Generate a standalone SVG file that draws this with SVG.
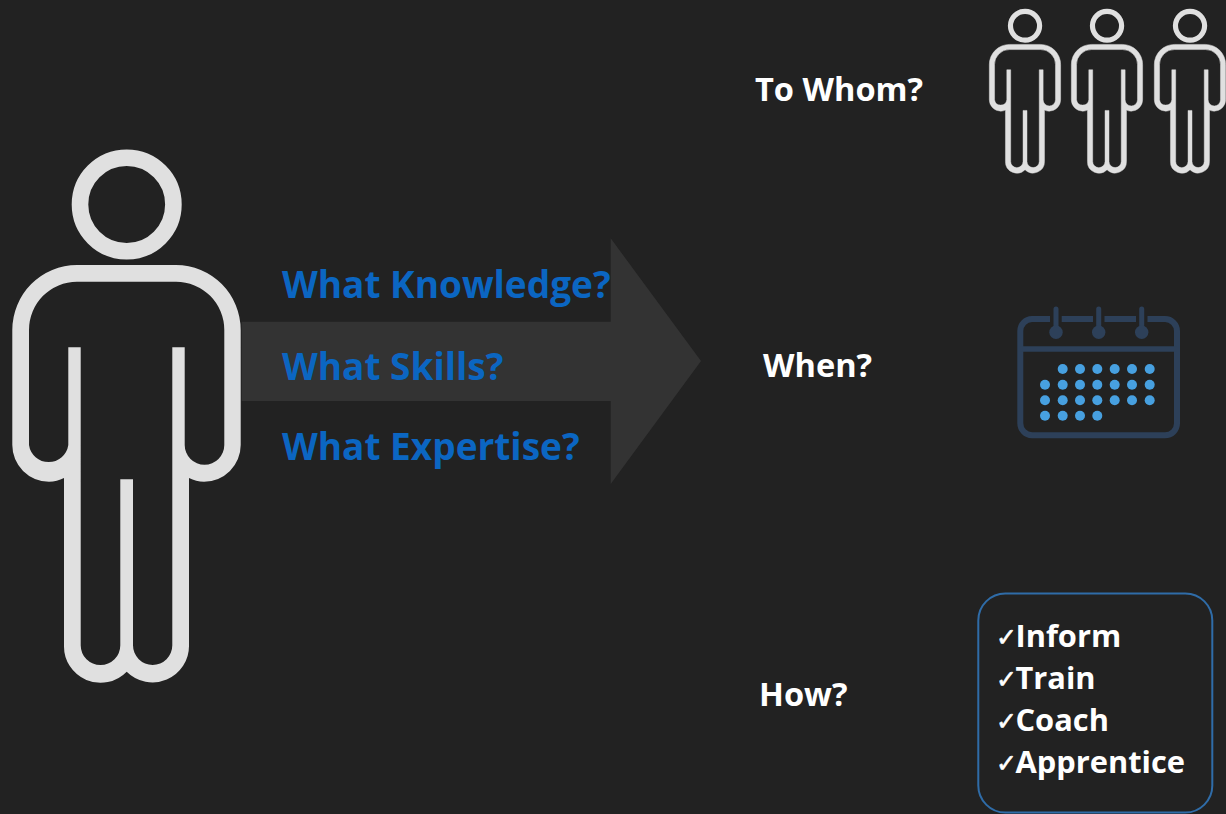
<svg xmlns="http://www.w3.org/2000/svg" xmlns:xlink="http://www.w3.org/1999/xlink" width="1226" height="814" viewBox="0 0 1226 814">
<style>
.t{font-family:"Open Sans","Noto Sans",sans-serif;font-weight:700}
.q{font-size:37px;fill:#0b66c2}
.w{font-size:32.6px;fill:#ffffff}
.l{font-size:30.8px;fill:#ffffff}
.c{font-family:"DejaVu Sans",sans-serif;font-weight:700;font-size:25px;fill:#ffffff;stroke:#ffffff;stroke-width:.6px}
.cal{fill:none;stroke:#2d4059;stroke-width:6}
.dot{fill:#47a0e0}
.ring{fill:#2d4059}
</style>
<defs>
<g id="person-shape">
<circle cx="126.7" cy="204.5" r="46.7" fill="none" stroke="#e0e0e0" stroke-width="16.6"/>
<path fill="#e0e0e0" fill-rule="evenodd" d="M77 265H176A64.7 65 0 0 1 240.7 330V445A36.7 36.7 0 0 1 204 481.7Q196 481.7 189 478V645.3A36.5 36.5 0 0 1 126.7 671.7A36.5 36.5 0 0 1 64 645.3V478Q57 481.7 49 481.7A36.7 36.7 0 0 1 12.3 445V330A64.7 65 0 0 1 77 265ZM77 281.7A48 48.3 0 0 0 29 330V445A19.85 19.85 0 0 0 68.3 445V347.3H80.7V645.3A19.8 19.8 0 0 0 120.3 645.3V479.3H133V645.3A19.65 19.65 0 0 0 172.3 645.3V347.3H184.7V445A19.8 19.8 0 0 0 224.3 445V330A48.3 48.3 0 0 0 176 281.7Z"/>
</g>
</defs>
<rect width="1226" height="814" fill="#222222"/>
<g id="connectors">
<polygon id="main-arrow" points="241.7,321.7 610.7,321.7 610.7,238.3 701,361 610.7,484 610.7,401 241.7,401" fill="#333333"/>
</g>
<g id="person-large"><use href="#person-shape"/></g>
<g id="questions">
<text class="t q" x="282" y="298">What Knowledge?</text>
<text class="t q" x="282" y="379.5">What Skills?</text>
<text class="t q" x="282" y="460">What Expertise?</text>
</g>
<g id="to-whom">
<text class="t w" x="755" y="101">To Whom?</text>
<use href="#person-shape" stroke="#e0e0e0" stroke-width="1.5" transform="translate(985.5 -37.2) scale(0.312 0.308)"/>
<use href="#person-shape" stroke="#e0e0e0" stroke-width="1.5" transform="translate(1067.5 -37.2) scale(0.312 0.308)"/>
<use href="#person-shape" stroke="#e0e0e0" stroke-width="1.5" transform="translate(1150.5 -37.2) scale(0.312 0.308)"/>
</g>
<g id="when">
<text class="t w" x="763" y="377">When?</text>
<g id="calendar">
<path class="cal" d="M1050 319H1032A12 12 0 0 0 1020.3 331V423.3A12 12 0 0 0 1032 435.3H1165A12 12 0 0 0 1177 423.3V331A12 12 0 0 0 1165 319H1147.5M1061.7 319H1093M1104.5 319H1136"/>
<path d="M1020 349H1177" fill="none" stroke="#2d4059" stroke-width="5.5"/>
<path d="M1056 309V332M1098.7 309V332M1141.7 309V332" fill="none" stroke="#2d4059" stroke-width="5" stroke-linecap="round"/>
<circle class="ring" cx="1056" cy="332.3" r="6.7"/><circle class="ring" cx="1098.7" cy="332.3" r="6.7"/><circle class="ring" cx="1141.7" cy="332.3" r="6.7"/>
<g class="dot">
<circle cx="1062.7" cy="369" r="5"/><circle cx="1080" cy="369" r="5"/><circle cx="1097.3" cy="369" r="5"/><circle cx="1114.7" cy="369" r="5"/><circle cx="1132" cy="369" r="5"/><circle cx="1149.7" cy="369" r="5"/>
<circle cx="1045" cy="384.7" r="5"/><circle cx="1062.7" cy="384.7" r="5"/><circle cx="1080" cy="384.7" r="5"/><circle cx="1097.3" cy="384.7" r="5"/><circle cx="1114.7" cy="384.7" r="5"/><circle cx="1132" cy="384.7" r="5"/><circle cx="1149.7" cy="384.7" r="5"/>
<circle cx="1045" cy="400.3" r="5"/><circle cx="1062.7" cy="400.3" r="5"/><circle cx="1080" cy="400.3" r="5"/><circle cx="1097.3" cy="400.3" r="5"/><circle cx="1114.7" cy="400.3" r="5"/><circle cx="1132" cy="400.3" r="5"/><circle cx="1149.7" cy="400.3" r="5"/>
<circle cx="1045" cy="415.7" r="5"/><circle cx="1062.7" cy="415.7" r="5"/><circle cx="1080" cy="415.7" r="5"/><circle cx="1097.3" cy="415.7" r="5"/>
</g>
</g>
</g>
<g id="how">
<text class="t w" x="759" y="706">How?</text>
<rect x="978.3" y="593.5" width="234" height="219" rx="27" fill="none" stroke="#2f6ca8" stroke-width="2"/>
<text class="c" x="996" y="646">✓</text><text class="t l" x="1015.5" y="647">Inform</text>
<text class="c" x="996" y="688">✓</text><text class="t l" x="1015.5" y="689">Train</text>
<text class="c" x="996" y="730">✓</text><text class="t l" x="1015.5" y="731">Coach</text>
<text class="c" x="996" y="772">✓</text><text class="t l" x="1015.5" y="773">Apprentice</text>
</g>
</svg>
